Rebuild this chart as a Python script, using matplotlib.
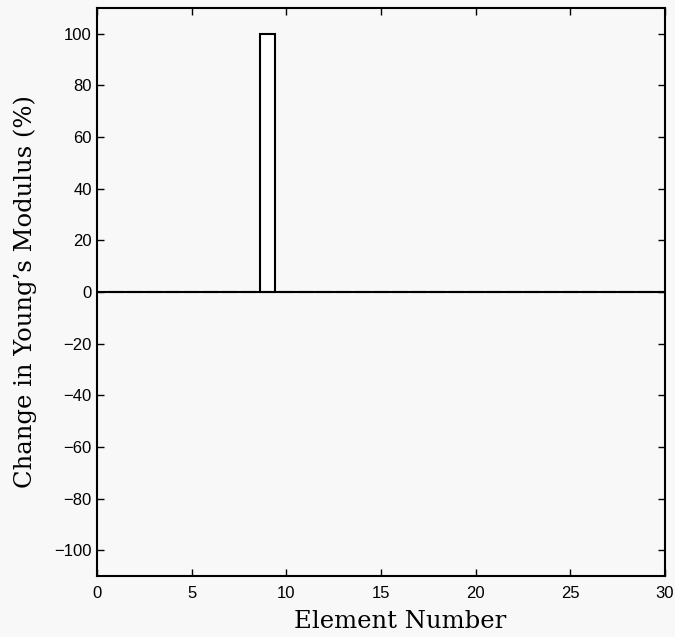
import matplotlib
matplotlib.use("Agg")
import matplotlib.pyplot as plt
import numpy as np

elements = np.arange(1, 31)
change = np.zeros(30)
change[8] = 100  # element 9

xticks = [0, 5, 10, 15, 20, 25, 30]
yticks = [-100, -80, -60, -40, -20, 0, 20, 40, 60, 80, 100]

bg = '#f8f8f8'
fig = plt.figure(figsize=(6.75, 6.37), dpi=100, facecolor=bg)
ax = fig.add_axes([0.144, 0.0958, 0.841, 0.8916], facecolor=bg)

ax.bar(elements, change, width=0.8, facecolor='white', edgecolor='black', linewidth=1.5)
ax.axhline(0, color='black', linewidth=1.5)

ax.set_xlim(0, 30)
ax.set_ylim(-110, 110)
ax.set_xticks(xticks)
ax.set_yticks(yticks)
ax.set_yticklabels([str(t) if t >= 0 else '\u2212' + str(-t) for t in yticks])
ax.tick_params(direction='in', top=True, right=True, length=5, width=1,
               labelsize=12)
ax.tick_params(axis='x', pad=7)
ax.tick_params(axis='y', pad=4)
for lab in ax.get_xticklabels() + ax.get_yticklabels():
    lab.set_family('Liberation Sans')
for s in ax.spines.values():
    s.set_linewidth(1.5)

ax.set_xlabel('Element Number', family='DejaVu Serif', fontsize=17.5)
ax.set_ylabel("Change in Young\u2019s Modulus (%)", family='DejaVu Serif', fontsize=17.5)
ax.xaxis.set_label_coords(0.533, -0.0915)
ax.xaxis.label.set_va('baseline')
ax.yaxis.set_label_coords(-0.127, 0.5)
ax.yaxis.label.set_va('center')

fig.savefig('out.png', dpi=100, facecolor=bg)
